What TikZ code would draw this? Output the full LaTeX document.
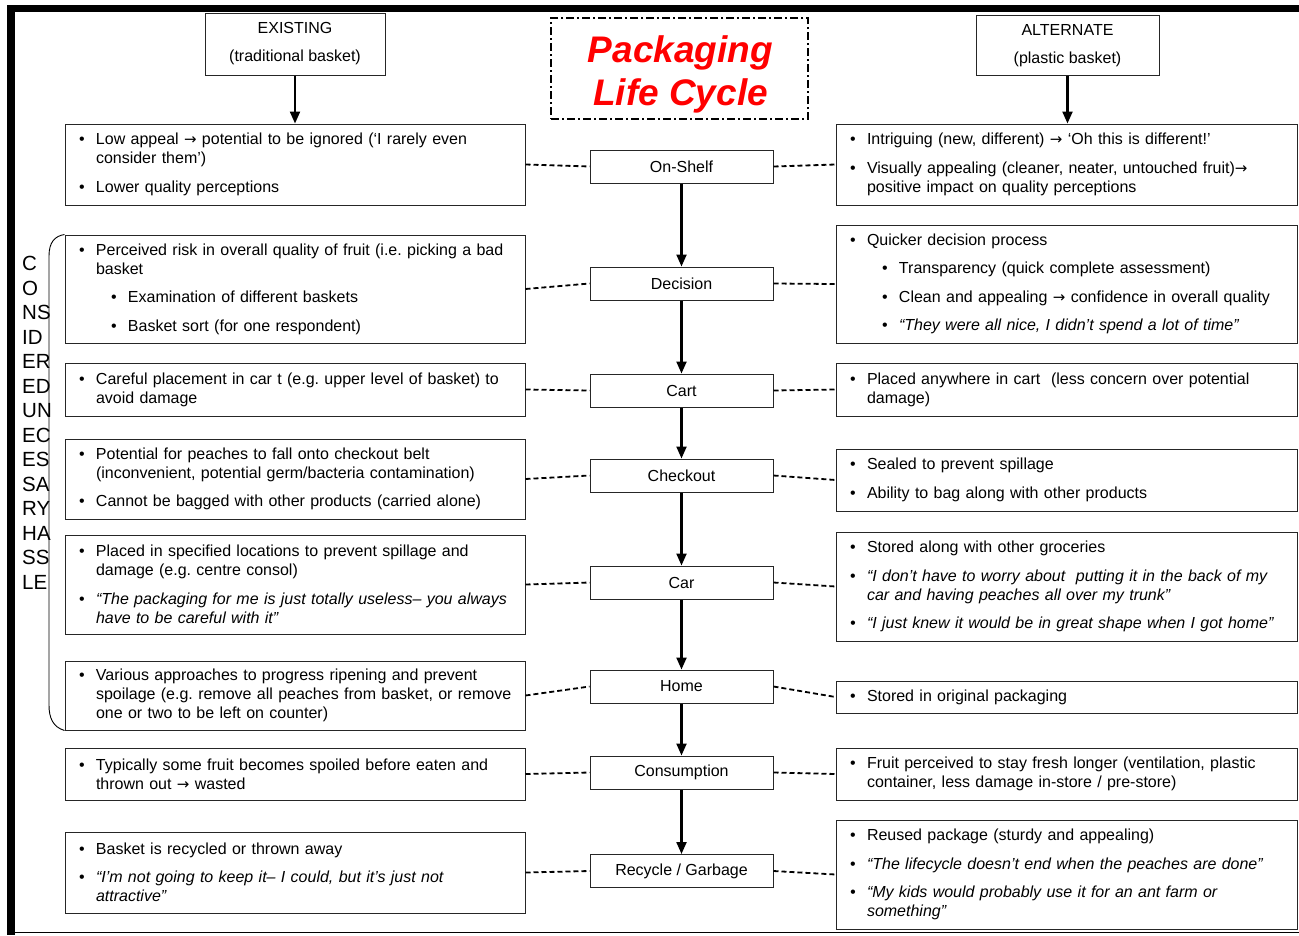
\documentclass[tikz,border=0pt]{standalone}
\usepackage{fontspec}
\setmainfont{Liberation Sans}
\newfontfamily\symfont{DejaVu Sans}
\usetikzlibrary{arrows.meta}

% bullet paragraphs: first-level and second-level items
\newcommand\bitem[1]{\leftskip=31pt\noindent\llap{•\hspace{11.2pt}}#1\par}
\newcommand\sitem[1]{\leftskip=63pt\noindent\llap{•\hspace{11.2pt}}#1\par}
\newcommand\rarr{{\symfont\fontsize{15}{19}\selectfont →}}

\tikzset{
  note/.style={draw=black!85, line width=1pt, inner sep=0pt, text width=460pt,
    minimum height=#1, font=\fontsize{16}{19}\selectfont,
    execute at begin node={\raggedright\frenchspacing\parskip=9.5pt\hbadness=10000}},
  stage/.style={draw=black!85, line width=1pt, inner sep=0pt, minimum width=183pt,
    minimum height=33pt, font=\fontsize{16}{19}\selectfont},
  head/.style={draw=black!85, line width=1pt, inner sep=0pt, align=center,
    font=\fontsize{16}{28}\selectfont},
  flow/.style={line width=2.2pt, -{Triangle[length=12pt,width=10pt]}},
  link/.style={line width=1.8pt, dash pattern=on 5pt off 3pt},
}

\begin{document}
\begin{tikzpicture}[x=1pt,y=-1pt]
\useasboundingbox (0,0) rectangle (1299,935);

% outer frame
\fill (7,5) rectangle (1299,12);
\fill (7,5) rectangle (15,935);
\draw[line width=1.5pt] (7,932.5) -- (1299,932.5);

% column headings and title
\node[head, minimum width=180pt, minimum height=62pt] (existing) at (295,44)
  {EXISTING\\(traditional basket)};
\node[head, minimum width=183pt, minimum height=60pt] (alternate) at (1067.5,45.5)
  {ALTERNATE\\(plastic basket)};
\node[draw, line width=2pt, dash pattern=on 8pt off 3pt on 2pt off 3pt,
  minimum width=257pt, minimum height=101pt, inner sep=0pt] (title) at (679.5,68.5) {};
\node[inner sep=0pt, align=center, text=red,
  font=\fontsize{37}{43}\selectfont\bfseries\itshape] (titletext) at (680.5,74.5)
  {Packaging\\Life Cycle};

% life-cycle stages
\node[stage] (s1) at (681.5,166.5) {On-Shelf};
\node[stage] (s2) at (681.5,283.5) {Decision};
\node[stage] (s3) at (681.5,390.5) {Cart};
\node[stage] (s4) at (681.5,475.5) {Checkout};
\node[stage] (s5) at (681.5,582.5) {Car};
\node[stage] (s6) at (681.5,686.5) {Home};
\node[stage] (s7) at (681.5,772.5) {Consumption};
\node[stage] (s8) at (681.5,871) {Recycle / Garbage};

% existing packaging notes
\node[note=81pt] (l1) at (295,164.5) {%
  \bitem{Low appeal \rarr\ potential to be ignored (‘I rarely even\newline consider them’)}
  \bitem{Lower quality perceptions}};
\node[note=108pt] (l2) at (295,289) {%
  \bitem{Perceived risk in overall quality of fruit (i.e. picking a bad\newline basket}
  \sitem{Examination of different baskets}
  \sitem{Basket sort (for one respondent)}};
\node[note=53pt] (l3) at (295,389.5) {%
  \bitem{Careful placement in car t (e.g. upper level of basket) to\newline avoid damage}};
\node[note=80pt] (l4) at (295,479) {%
  \bitem{Potential for peaches to fall onto checkout belt\newline (inconvenient, potential germ/bacteria contamination)}
  \bitem{Cannot be bagged with other products (carried alone)}};
\node[note=99pt] (l5) at (295,584.5) {%
  \bitem{Placed in specified locations to prevent spillage and\newline damage (e.g. centre consol)}
  \bitem{\itshape “The packaging for me is just totally useless– you always\newline have to be careful with it”}};
\node[note=69pt] (l6) at (295,695.5) {%
  \bitem{Various approaches to progress ripening and prevent\newline spoilage (e.g. remove all peaches from basket, or remove\newline one or two to be left on counter)}};
\node[note=52pt] (l7) at (295,774) {%
  \bitem{Typically some fruit becomes spoiled before eaten and\newline thrown out \rarr\ wasted}};
\node[note=81pt] (l8) at (295,872.5) {%
  \bitem{Basket is recycled or thrown away}
  \bitem{\itshape “I’m not going to keep it– I could, but it’s just not\newline attractive”}};

% alternate packaging notes
\node[note=81pt, text width=461pt] (r1) at (1066.5,164.5) {%
  \bitem{Intriguing (new, different) \rarr\ ‘Oh this is different!’}
  \bitem{Visually appealing (cleaner, neater, untouched fruit)\rarr\newline positive impact on quality perceptions}};
\node[note=118pt, text width=461pt] (r2) at (1066.5,284) {%
  \bitem{Quicker decision process}
  \sitem{Transparency (quick complete assessment)}
  \sitem{Clean and appealing \rarr\ confidence in overall quality}
  \sitem{\itshape “They were all nice, I didn’t spend a lot of time”}};
\node[note=53pt, text width=461pt] (r3) at (1066.5,389.5) {%
  \bitem{Placed anywhere in cart\ \ (less concern over potential\newline damage)}};
\node[note=62pt, text width=461pt] (r4) at (1066.5,480) {%
  \bitem{Sealed to prevent spillage}
  \bitem{Ability to bag along with other products}};
\node[note=109pt, text width=461pt] (r5) at (1066.5,586.5) {%
  \bitem{Stored along with other groceries}
  \bitem{\itshape “I don’t have to worry about\ \ putting it in the back of my\newline car and having peaches all over my trunk”}
  \bitem{\itshape “I just knew it would be in great shape when I got home”}};
\node[note=32pt, text width=461pt] (r6) at (1066.5,697) {%
  \bitem{Stored in original packaging}};
\node[note=52pt, text width=461pt] (r7) at (1066.5,774) {%
  \bitem{Fruit perceived to stay fresh longer (ventilation, plastic\newline container, less damage in-store / pre-store)}};
\node[note=109pt, text width=461pt] (r8) at (1066.5,874.5) {%
  \bitem{Reused package (sturdy and appealing)}
  \bitem{\itshape “The lifecycle doesn’t end when the peaches are done”}
  \bitem{\itshape “My kids would probably use it for an ant farm or\newline something”}};

% flow arrows
\draw[flow] (existing) -- (existing.south |- l1.north);
\draw[flow] (alternate) -- (alternate.south |- r1.north);
\foreach \a/\b in {s1/s2,s2/s3,s3/s4,s4/s5,s5/s6,s6/s7,s7/s8}
  \draw[flow] (\a) -- (\b);

% dashed links from stages to notes
\foreach \i in {1,...,8} {
  \draw[link] (l\i.east) -- (s\i.west);
  \draw[link] (s\i.east) -- (r\i.west);
}

% bracket and vertical label
\draw[line width=0.9pt] (l2.north west) .. controls (55,236) and (49,242) .. (49,256)
  -- (49,705) .. controls (49,718) and (53,727) .. (l6.south west);
\node[anchor=north west, inner sep=0pt, align=left,
  font=\fontsize{20.5}{24.5}\selectfont] (hassle) at (22,256)
  {C\\O\\NS\\ID\\ER\\ED\\UN\\EC\\ES\\SA\\RY\\HA\\SS\\LE};
\end{tikzpicture}
\end{document}
